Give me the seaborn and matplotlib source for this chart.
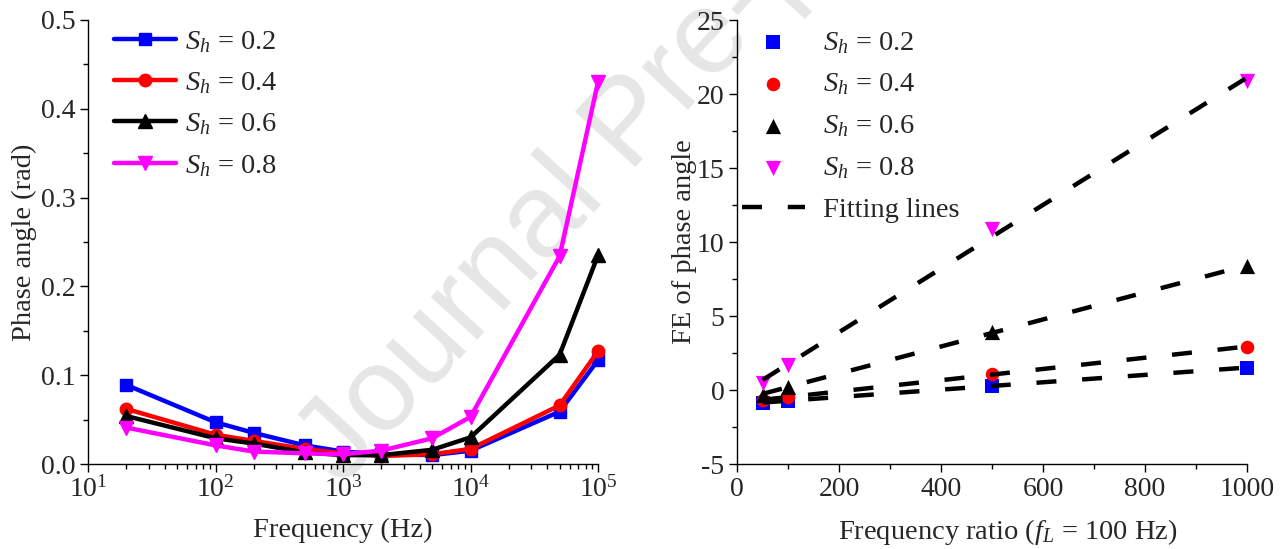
import numpy as np
import pandas as pd
import matplotlib
matplotlib.use("Agg")
import matplotlib.pyplot as plt
from matplotlib.ticker import (MultipleLocator, LogLocator, NullFormatter,
                               LogFormatterMathtext, FormatStrFormatter)
import seaborn as sns

# ---- data -------------------------------------------------------------
freq_hz = [20, 100, 200, 500, 1000, 2000, 5000, 10000, 50000, 100000]
phase_s02 = [0.089, 0.047, 0.035, 0.021, 0.014, 0.011, 0.010, 0.015, 0.059, 0.117]
phase_s04 = [0.062, 0.033, 0.026, 0.017, 0.012, 0.009, 0.011, 0.017, 0.066, 0.127]
phase_s06 = [0.054, 0.029, 0.023, 0.013, 0.010, 0.010, 0.016, 0.030, 0.123, 0.235]
phase_s08 = [0.041, 0.021, 0.014, 0.012, 0.011, 0.015, 0.029, 0.053, 0.234, 0.430]

freq_ratio = [50, 100, 500, 1000]
fe_s02 = [-0.86, -0.72, 0.29, 1.51]
fe_s04 = [-0.70, -0.45, 1.06, 2.93]
fe_s06 = [-0.34, 0.23, 3.94, 8.38]
fe_s08 = [0.45, 1.69, 10.90, 20.85]

sh_labels = ["0.2", "0.4", "0.6", "0.8"]
colors = ["#0000ff", "#ff0000", "#000000", "#ff00ff"]
markers = ["s", "o", "^", "v"]

# ---- style ------------------------------------------------------------
sns.set_style("ticks")
plt.rcParams["font.family"] = ["Liberation Serif", "DejaVu Serif"]
plt.rcParams["mathtext.fontset"] = "custom"
plt.rcParams["mathtext.rm"] = "Liberation Serif"
plt.rcParams["mathtext.it"] = "Liberation Serif:italic"
plt.rcParams["mathtext.bf"] = "Liberation Serif:bold"
plt.rcParams["axes.unicode_minus"] = False
plt.rcParams["axes.linewidth"] = 1.0
plt.rcParams["axes.edgecolor"] = "black"

TICK_FS = 20
LABEL_FS = 20.5
LEGEND_FS = 20.5

fig = plt.figure(figsize=(12.87, 5.49), dpi=100)
fig.patch.set_facecolor("white")

# background watermark
fig.text(343 / 1287, 1 - 487 / 549, "Journal Pre-proof", fontsize=86,
         color="#e6e6e6", family="Liberation Sans", rotation=47.5,
         rotation_mode="anchor", ha="left", va="baseline", zorder=-5)

ax1 = fig.add_axes([88 / 1287, 85 / 549, 510 / 1287, 444 / 549])
ax2 = fig.add_axes([737 / 1287, 85 / 549, 510 / 1287, 444 / 549])
for ax in (ax1, ax2):
    ax.set_facecolor("none")

# ---- left panel: phase angle vs frequency -----------------------------
left_series = [phase_s02, phase_s04, phase_s06, phase_s08]
for vals, c, m, lab in zip(left_series, colors, markers, sh_labels):
    df = pd.DataFrame({"f": freq_hz, "phase": vals})
    sns.lineplot(data=df, x="f", y="phase", ax=ax1, color=c, marker=m,
                 markersize=10.5 if m in "^v" else 9, markeredgecolor=c,
                 markeredgewidth=1, linewidth=3.2, sort=False,
                 label=rf"$S_h$ = {lab}", clip_on=False)

ax1.set_xscale("log")
ax1.set_xlim(10, 1e5)
ax1.set_ylim(0, 0.5)
ax1.yaxis.set_major_locator(MultipleLocator(0.1))
ax1.yaxis.set_minor_locator(MultipleLocator(0.05))
ax1.yaxis.set_major_formatter(FormatStrFormatter("%.1f"))
ax1.xaxis.set_major_locator(LogLocator(base=10, numticks=10))
ax1.xaxis.set_major_formatter(LogFormatterMathtext())
ax1.xaxis.set_minor_locator(LogLocator(base=10, subs=np.arange(2, 10), numticks=20))
ax1.xaxis.set_minor_formatter(NullFormatter())
ax1.set_xlabel("Frequency (Hz)", fontsize=LABEL_FS, labelpad=11)
ax1.set_ylabel("Phase angle (rad)", fontsize=LABEL_FS, labelpad=3)

ax1.legend(loc="upper left", bbox_to_anchor=(0.05, 0.98), frameon=False,
           fontsize=LEGEND_FS, handlelength=2.2, handletextpad=0.3,
           labelspacing=0.54, borderpad=0, borderaxespad=0)

# ---- right panel: FE vs frequency ratio -------------------------------
right_series = [fe_s02, fe_s04, fe_s06, fe_s08]
xs = np.array(freq_ratio, dtype=float)
for vals, c, m, lab in zip(right_series, colors, markers, sh_labels):
    df = pd.DataFrame({"ratio": freq_ratio, "fe": vals})
    sns.scatterplot(data=df, x="ratio", y="fe", ax=ax2, color=c, marker=m,
                    s=120 if m in "^v" else 95, edgecolor=c, linewidth=0,
                    label=rf"$S_h$ = {lab}", zorder=3, clip_on=False)

# least-squares fitting line for each series
fit_handle = None
for vals in right_series:
    slope, intercept = np.polyfit(xs, np.array(vals), 1)
    x_end = np.array([xs.min(), xs.max()])
    fit = pd.DataFrame({"ratio": x_end, "fe": slope * x_end + intercept})
    ln = ax2.plot(fit["ratio"], fit["fe"], color="black", linewidth=3.2,
                  linestyle=(0, (4.5, 5.8)), dash_capstyle="butt", zorder=4)
    fit_handle = ln[0]

ax2.set_xlim(0, 1000)
ax2.set_ylim(-5, 25)
ax2.xaxis.set_major_locator(MultipleLocator(200))
ax2.xaxis.set_minor_locator(MultipleLocator(100))
ax2.yaxis.set_major_locator(MultipleLocator(5))
ax2.yaxis.set_minor_locator(MultipleLocator(2.5))
ax2.set_xlabel(r"Frequency ratio ($f_L$ = 100 Hz)", fontsize=LABEL_FS, labelpad=11)
ax2.xaxis.label.set_x(0.531)
ax2.set_ylabel("FE of phase angle", fontsize=LABEL_FS, labelpad=0)

handles, labels = ax2.get_legend_handles_labels()
handles = handles[:4] + [fit_handle]
labels = labels[:4] + ["Fitting lines"]
ax2.legend(handles, labels, loc="upper left", bbox_to_anchor=(0.01, 0.978),
           frameon=False, fontsize=LEGEND_FS, handlelength=2.2,
           handletextpad=0.65, labelspacing=0.56, borderpad=0,
           borderaxespad=0, scatterpoints=1)

for ax in (ax1, ax2):
    sns.despine(ax=ax)
    ax.tick_params(axis="both", which="major", direction="out", length=6,
                   width=1, labelsize=TICK_FS, color="black", pad=3)
    ax.tick_params(axis="both", which="minor", direction="out", length=3.5,
                   width=1, color="black")
    for lbl in ax.get_xticklabels() + ax.get_yticklabels():
        lbl.set_fontfamily(["Liberation Serif", "DejaVu Serif"])

fig.savefig("out.png", dpi=100, facecolor="white")
